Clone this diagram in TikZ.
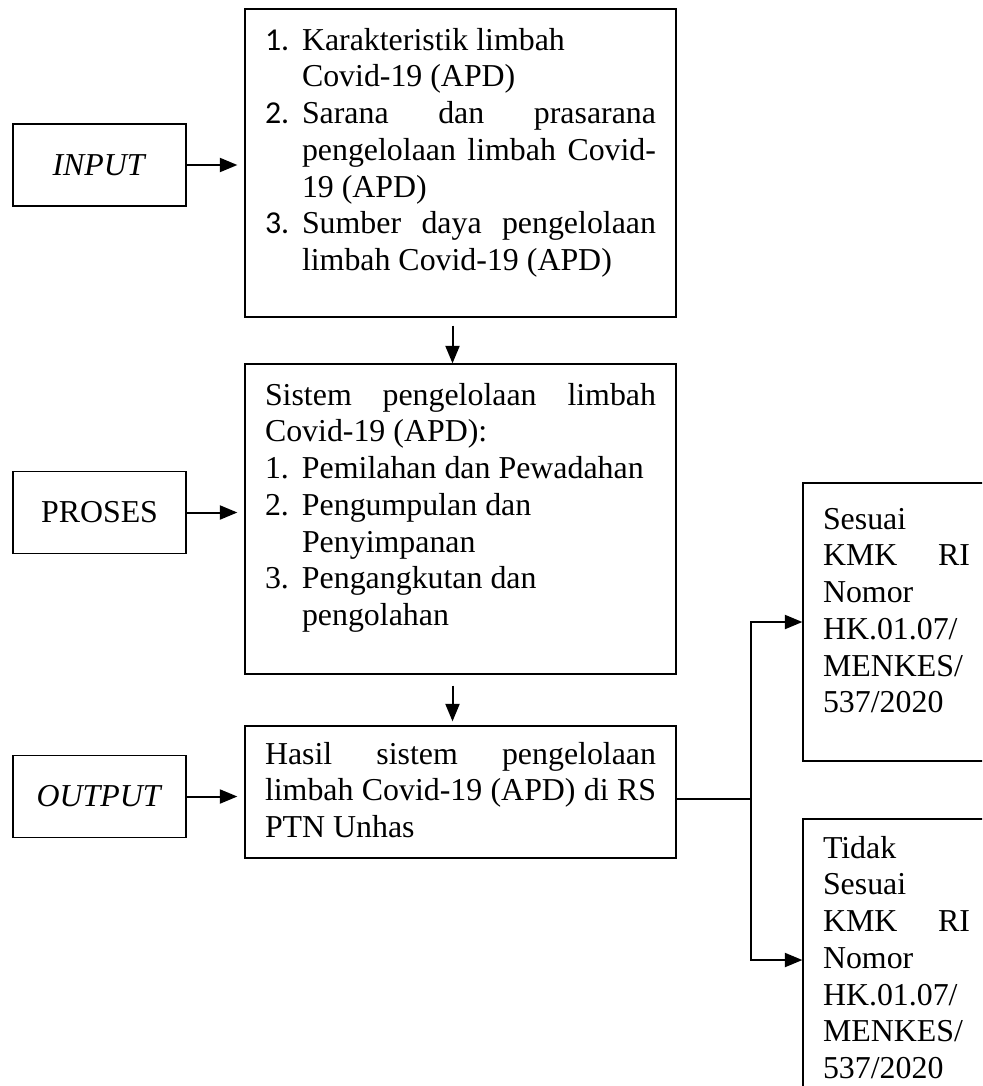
\documentclass[tikz,border=0pt]{standalone}
\usepackage{fontspec}
\setmainfont{Liberation Serif}
\newfontfamily\numfont{Carlito}
\usepackage{tikz}
\usetikzlibrary{arrows.meta, positioning}
\hyphenpenalty=10000
\tolerance=10000

\newlength{\itmindent}
\setlength{\itmindent}{14.8pt}
\newcommand{\itm}[2]{\noindent\hangindent=\itmindent\hangafter=1%
  \makebox[\itmindent][l]{#1}#2\par}

\tikzstyle{tag} = [rectangle, minimum width = 69.2pt, minimum height = 32.8pt,
  inner sep = 0, draw = black, line width = 0.5pt, text centered]
\tikzstyle{panel} = [
  rectangle, text width = 156.4pt, inner xsep = 8pt, inner ysep = 0,
  draw = black, line width = 0.5pt, align = justify
]
\tikzstyle{result} = [
  rectangle, text width = 58.8pt, inner xsep = 8pt, inner ysep = 0,
  draw = black, line width = 0.5pt, align = left
]
\tikzstyle{arr} = [-{Triangle[length = 7pt, width = 5.6pt]}, line width = 0.8pt]

\begin{document}
\begin{tikzpicture}[node distance = 0, x = 0.4pt, y = -0.4pt,
    font = \fontsize{12.75}{14.7}\selectfont]
      \useasboundingbox (0, 0) rectangle (982, 1086);
      \clip (0, 0) rectangle (982, 1086);
      % left tags
      \node [tag] (input) at (99.5, 165) {\textit{INPUT}};
      \node [tag, below of = input, yshift = -139] (proses) {PROSES};
      \node [tag, below of = proses, yshift = -113.6] (output) {\textit{OUTPUT}};
      % input
      \node [panel, right of = input, xshift = 144.4, yshift = 0.8,
        text height = 16.4pt, text depth = 106.8pt] (input-box) {%
        \itm{\numfont 1.}{Karakteristik limbah\newline Covid-19 (APD)}
        \itm{\numfont 2.}{Sarana dan prasarana\linebreak pengelolaan limbah Covid-\linebreak 19 (APD)}
        \itm{\numfont 3.}{Sumber daya pengelolaan\linebreak limbah Covid-19 (APD)}};
      % proses
      \node [panel, right of = proses, xshift = 144.4, yshift = -2.6,
        text height = 16.4pt, text depth = 107.6pt] (proses-box) {%
        \noindent Sistem pengelolaan limbah\linebreak Covid-19 (APD):\par
        \itm{1.}{Pemilahan dan Pewadahan}
        \itm{2.}{Pengumpulan dan\newline Penyimpanan}
        \itm{3.}{Pengangkutan dan\newline pengolahan}};
      % output
      \node [panel, right of = output, xshift = 144.4, yshift = 1.8,
        text height = 15.2pt, text depth = 37.6pt] (output-box) {%
        \noindent Hasil sistem pengelolaan\linebreak limbah Covid-19 (APD) di RS\linebreak PTN Unhas};
      % results
      \node [result, right of = output-box, xshift = 174.4, yshift = 68,
        text height = 18.4pt, text depth = 92.8pt] (sesuai) {%
        Sesuai\\ KMK\hfill RI\\ Nomor\\ HK.01.07/\\ MENKES/\\ 537/2020};
      \node [result, right of = output-box, xshift = 174.4, yshift = -67.2,
        text height = 15.6pt, text depth = 97.2pt] (tidak) {%
        Tidak\\ Sesuai\\ KMK\hfill RI\\ Nomor\\ HK.01.07/\\ MENKES/\\ 537/2020};
      \coordinate (split) at ([xshift = 29.8, yshift = -2.8]output-box.east);

      \draw [arr, shorten >= 2.8pt] (input.east) -- (input.east -| input-box.west);
      \draw [arr, shorten >= 2.8pt] (proses.east) -- (proses.east -| proses-box.west);
      \draw [arr, shorten >= 2.8pt] (output.east) -- (output.east -| output-box.west);
      \draw [arr, shorten <= 3.2pt] ([xshift = -3.2]input-box.south) -- ([xshift = -3.2]proses-box.north);
      \draw [arr, shorten <= 4.4pt, shorten >= 1.6pt] ([xshift = -3.2]proses-box.south) -- ([xshift = -3.2]output-box.north);
      \draw [line width = 0.8pt] (output-box.east |- split) -- (split);
      \draw [arr] (split) |- (sesuai.west);
      \draw [arr] (split) |- (tidak.west);
    \end{tikzpicture}
\end{document}
